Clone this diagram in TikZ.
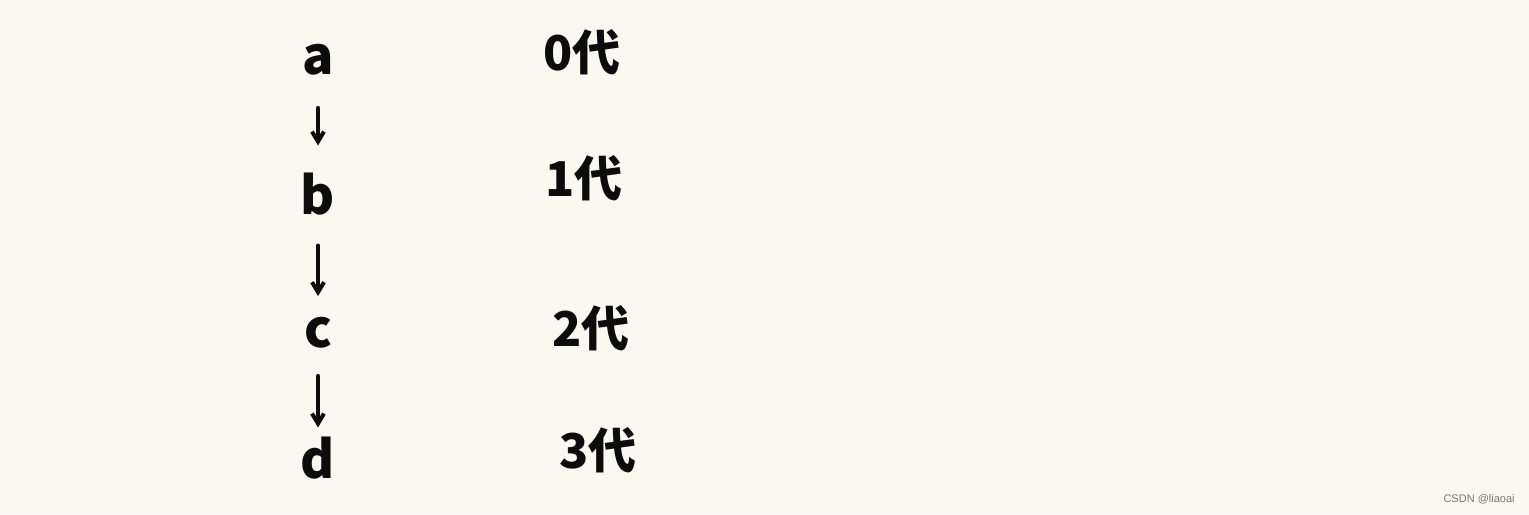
\documentclass[tikz,border=0pt]{standalone}
\usepackage{fontspec}
\setmainfont{Noto Sans CJK SC}
\newfontfamily\wmfont{Liberation Sans}
\usetikzlibrary{arrows.meta}
\definecolor{paper}{RGB}{251,248,242}
\definecolor{ink}{RGB}{12,12,12}
\begin{document}
\begin{tikzpicture}[x=0.5pt,y=-0.5pt,
  letter/.style={inner sep=0pt,font=\fontsize{26}{28}\selectfont\bfseries,text=ink},
  gen/.style={inner sep=0pt,font=\fontsize{24}{26}\selectfont\bfseries,text=ink},
  link/.style={draw=ink,line width=2pt,line cap=round,-{Straight Barb[length=5pt,width=6pt,line width=2pt]}},
  wm/.style={inner sep=0pt,font=\wmfont\fontsize{5.5}{6}\selectfont,text={rgb,255:red,120;green,120;blue,120}}]
\fill[paper] (0,0) rectangle (1529,514);
\useasboundingbox (0,0) rectangle (1529,514);
\node[letter] (a) at (318,60) {a};
\node[letter] (b) at (318,194) {b};
\node[letter] (c) at (318,333) {c};
\node[letter] (d) at (318,458) {d};
\draw[link,shorten <=16pt,shorten >=13.5pt] (a) -- (b);
\draw[link,shorten <=15pt,shorten >=10.5pt] (b) -- (c);
\draw[link,shorten <=13.5pt,shorten >=4.5pt] (c) -- (d);
\node[gen] (g0) at (582,52) {0代};
\node[gen] (g1) at (584,178) {1代};
\node[gen] (g2) at (591,328) {2代};
\node[gen] (g3) at (598,450) {3代};
\node[wm,anchor=east] (w) at (1515,499) {CSDN @liaoai};
\end{tikzpicture}
\end{document}
